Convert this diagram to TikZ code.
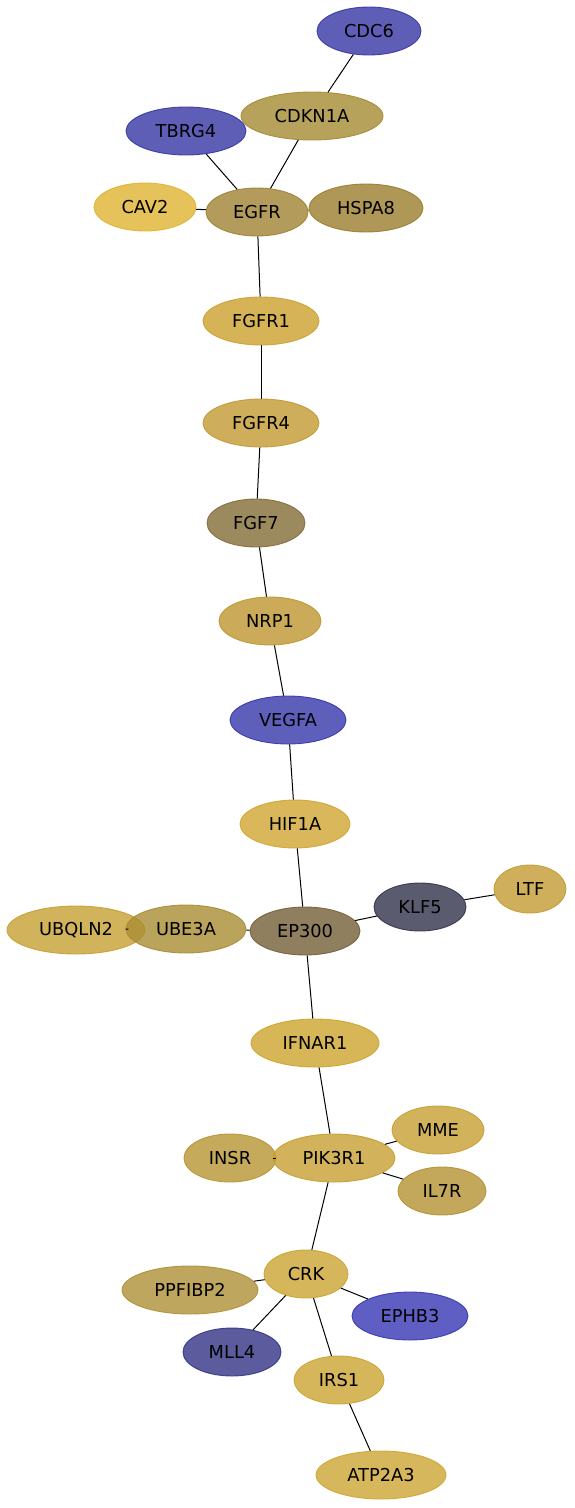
\documentclass[tikz,border=0pt]{standalone}
\usepackage{fontspec}
\setmainfont{DejaVu Sans}
\usetikzlibrary{shapes.geometric}
\definecolor{cBlue}{RGB}{54,54,164}
\definecolor{cCDKN}{RGB}{166,139,51}
\definecolor{cCAV}{RGB}{224,180,49}
\definecolor{cEGFR}{RGB}{159,131,51}
\definecolor{cHSPA}{RGB}{154,126,46}
\definecolor{cFGFRa}{RGB}{204,161,46}
\definecolor{cFGFRb}{RGB}{194,154,49}
\definecolor{cFGF}{RGB}{129,109,54}
\definecolor{cNRP}{RGB}{191,151,49}
\definecolor{cVEGF}{RGB}{54,54,171}
\definecolor{cHIF}{RGB}{209,166,49}
\definecolor{cEP}{RGB}{116,96,54}
\definecolor{cKLF}{RGB}{51,51,76}
\definecolor{cLTF}{RGB}{196,156,51}
\definecolor{cUBE}{RGB}{169,141,51}
\definecolor{cUBQ}{RGB}{198,160,50}
\definecolor{cIFN}{RGB}{206,164,46}
\definecolor{cPIK}{RGB}{199,159,49}
\definecolor{cINSR}{RGB}{184,149,51}
\definecolor{cIL}{RGB}{181,146,51}
\definecolor{cCRK}{RGB}{204,164,49}
\definecolor{cPPF}{RGB}{174,144,54}
\definecolor{cEPH}{RGB}{54,54,181}
\definecolor{cMLL}{RGB}{51,51,134}
\definecolor{cATP}{RGB}{206,166,51}
\tikzset{
  gene/.style={ellipse, inner sep=0pt, fill=#1, draw=#1, fill opacity=0.8, draw opacity=0.9, text opacity=1, line width=0.9pt, font=\fontsize{17.8}{20}\selectfont},
  link/.style={line width=1pt, black}
}
\begin{document}
\begin{tikzpicture}[x=1pt,y=-1pt]
\useasboundingbox (0,0) rectangle (574,1508);
\fill[white] (0,0) rectangle (574,1508);
\node[gene=cBlue, minimum width=104pt, minimum height=48pt] (CDC6) at (369,31) {CDC6};
\node[gene=cCDKN, minimum width=142pt, minimum height=48pt] (CDKN1A) at (312,116) {CDKN1A};
\node[gene=cBlue, minimum width=120pt, minimum height=48pt] (TBRG4) at (186,131) {TBRG4};
\node[gene=cCAV, minimum width=102pt, minimum height=48pt] (CAV2) at (145,207) {CAV2};
\node[gene=cEGFR, minimum width=102pt, minimum height=48pt] (EGFR) at (257,212) {EGFR};
\node[gene=cHSPA, minimum width=114pt, minimum height=48pt] (HSPA8) at (366,208) {HSPA8};
\node[gene=cFGFRa, minimum width=116pt, minimum height=48pt] (FGFR1) at (261,321) {FGFR1};
\node[gene=cFGFRb, minimum width=116pt, minimum height=48pt] (FGFR4) at (261,423) {FGFR4};
\node[gene=cFGF, minimum width=98pt, minimum height=48pt] (FGF7) at (256,523) {FGF7};
\node[gene=cNRP, minimum width=102pt, minimum height=48pt] (NRP1) at (270,621) {NRP1};
\node[gene=cVEGF, minimum width=116pt, minimum height=48pt] (VEGFA) at (288,720) {VEGFA};
\node[gene=cHIF, minimum width=110pt, minimum height=48pt] (HIF1A) at (295,824) {HIF1A};
\node[gene=cEP, minimum width=110pt, minimum height=48pt] (EP300) at (305,931) {EP300};
\node[gene=cKLF, minimum width=92pt, minimum height=48pt] (KLF5) at (420,907) {KLF5};
\node[gene=cLTF, minimum width=72pt, minimum height=48pt] (LTF) at (530,889) {LTF};
\node[gene=cUBQ, minimum width=138pt, minimum height=48pt] (UBQLN2) at (76,930) {UBQLN2};
\node[gene=cUBE, minimum width=120pt, minimum height=48pt] (UBE3A) at (186,929) {UBE3A};
\node[gene=cIFN, minimum width=128pt, minimum height=48pt] (IFNAR1) at (315,1043) {IFNAR1};
\node[gene=cINSR, minimum width=92pt, minimum height=48pt] (INSR) at (230,1158) {INSR};
\node[gene=cPIK, minimum width=122pt, minimum height=48pt] (PIK3R1) at (334,1158) {PIK3R1};
\node[gene=cPIK, minimum width=92pt, minimum height=48pt] (MME) at (438,1130) {MME};
\node[gene=cIL, minimum width=88pt, minimum height=48pt] (IL7R) at (442,1191) {IL7R};
\node[gene=cCRK, minimum width=84pt, minimum height=48pt] (CRK) at (306,1274) {CRK};
\node[gene=cPPF, minimum width=136pt, minimum height=48pt] (PPFIBP2) at (190,1290) {PPFIBP2};
\node[gene=cEPH, minimum width=116pt, minimum height=48pt] (EPHB3) at (410,1316) {EPHB3};
\node[gene=cMLL, minimum width=98pt, minimum height=48pt] (MLL4) at (232,1352) {MLL4};
\node[gene=cCRK, minimum width=90pt, minimum height=48pt] (IRS1) at (339,1380) {IRS1};
\node[gene=cATP, minimum width=130pt, minimum height=48pt] (ATP2A3) at (381,1475) {ATP2A3};
\draw[link] (CDC6) -- (CDKN1A);
\draw[link] (CDKN1A) -- (EGFR);
\draw[link] (TBRG4) -- (EGFR);
\draw[link] (CAV2) -- (EGFR);
\draw[link] (EGFR) -- (HSPA8);
\draw[link] (EGFR) -- (FGFR1);
\draw[link] (FGFR1) -- (FGFR4);
\draw[link] (FGFR4) -- (FGF7);
\draw[link] (FGF7) -- (NRP1);
\draw[link] (NRP1) -- (VEGFA);
\draw[link] (VEGFA) -- (HIF1A);
\draw[link] (HIF1A) -- (EP300);
\draw[link] (EP300) -- (KLF5);
\draw[link] (KLF5) -- (LTF);
\draw[link] (EP300) -- (UBE3A);
\draw[link, shorten >=17pt] (UBE3A.west) -- (UBQLN2.east);
\draw[link] (EP300) -- (IFNAR1);
\draw[link] (IFNAR1) -- (PIK3R1);
\draw[link] (PIK3R1) -- (INSR);
\draw[link] (PIK3R1) -- (MME);
\draw[link] (PIK3R1) -- (IL7R);
\draw[link] (PIK3R1) -- (CRK);
\draw[link] (CRK) -- (PPFIBP2);
\draw[link] (CRK) -- (EPHB3);
\draw[link] (CRK) -- (MLL4);
\draw[link] (CRK) -- (IRS1);
\draw[link] (IRS1) -- (ATP2A3);
\end{tikzpicture}
\end{document}
